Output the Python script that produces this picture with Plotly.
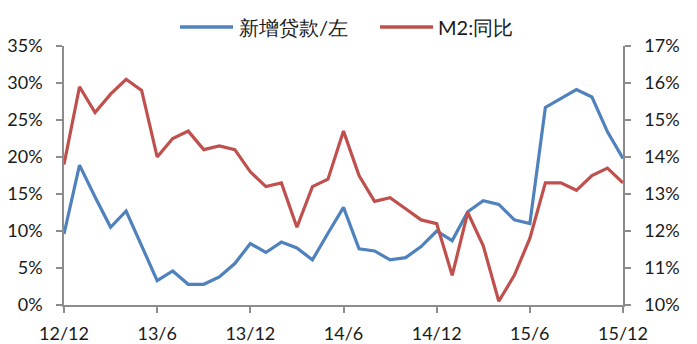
import plotly.graph_objects as go

# Monthly observations, Dec 2012 - Dec 2015
months = list(range(37))
tick_positions = [0, 6, 12, 18, 24, 30, 36]
tick_labels = ["12/12", "13/6", "13/12", "14/6", "14/12", "15/6", "15/12"]

series_names = ["新增贷款/左", "M2:同比"]

# New loans growth (left axis, %)
new_loans = [9.6, 18.9, 14.6, 10.5, 12.7, 7.9, 3.3, 4.6, 2.8, 2.8, 3.8, 5.6,
             8.3, 7.1, 8.5, 7.7, 6.1, 9.7, 13.2, 7.6, 7.3, 6.1, 6.4, 7.9,
             10.0, 8.7, 12.6, 14.1, 13.6, 11.5, 11.0, 26.7, 27.9, 29.1, 28.1, 23.4,
             19.8]

# M2 year-on-year growth (right axis, %)
m2_yoy = [13.8, 15.9, 15.2, 15.7, 16.1, 15.8, 14.0, 14.5, 14.7, 14.2, 14.3, 14.2,
          13.6, 13.2, 13.3, 12.1, 13.2, 13.4, 14.7, 13.5, 12.8, 12.9, 12.6, 12.3,
          12.2, 10.8, 12.5, 11.6, 10.1, 10.8, 11.8, 13.3, 13.3, 13.1, 13.5, 13.7,
          13.3]

BLUE = "#4F81BD"
RED = "#C0504D"
AXIS = "#8C8C8C"
FONT = "Lato, 'Open Sans', sans-serif"

W, H = 697, 344
L, R, T, B = 64, 74, 46, 39
PW, PH = W - L - R, H - T - B


def px_x(px):
    return (px - L) / PW


def px_y(py):
    return (H - B - py) / PH


fig = go.Figure()
fig.add_trace(go.Scatter(x=months, y=new_loans, name=series_names[0], mode="lines",
                         line=dict(color=BLUE, width=3.2)))
fig.add_trace(go.Scatter(x=months, y=m2_yoy, name=series_names[1], mode="lines",
                         line=dict(color=RED, width=3.2), yaxis="y2"))

# Legend drawn above the plot: line swatch followed by its label
legend_items = [(series_names[0], BLUE, 180, 233, 237), (series_names[1], RED, 380, 433, 436)]
legend_y = 27
for name, color, x0, x1, tx in legend_items:
    fig.add_shape(type="line", xref="paper", yref="paper",
                  x0=px_x(x0), x1=px_x(x1), y0=px_y(legend_y), y1=px_y(legend_y),
                  line=dict(color=color, width=3.5))
    fig.add_annotation(xref="paper", yref="paper", x=px_x(tx), y=px_y(legend_y),
                       text=name, showarrow=False, xanchor="left", yanchor="middle",
                       font=dict(size=20, color="#1a1a1a"))

fig.update_layout(
    width=W, height=H,
    margin=dict(l=L, r=R, t=T, b=B, autoexpand=False),
    paper_bgcolor="white", plot_bgcolor="white",
    font=dict(family=FONT, size=18, color="#1a1a1a"),
    showlegend=False,
    xaxis=dict(range=[0, 36], tickvals=tick_positions, ticktext=tick_labels,
               showgrid=False, zeroline=False, showline=True, linecolor=AXIS,
               linewidth=1.5, ticks="outside", ticklen=6, tickcolor=AXIS,
               tickwidth=1.5, tickfont=dict(size=18), ticklabelstandoff=6),
    yaxis=dict(range=[0, 35], dtick=5, ticksuffix="%", showgrid=False,
               zeroline=False, showline=True, linecolor=AXIS, linewidth=1.5,
               ticks="outside", ticklen=6, tickcolor=AXIS, tickwidth=1.5,
               tickfont=dict(size=18), ticklabelstandoff=10),
    yaxis2=dict(range=[10, 17], dtick=1, ticksuffix="%", overlaying="y",
                side="right", showgrid=False, zeroline=False, showline=True,
                linecolor=AXIS, linewidth=1.5, ticks="outside", ticklen=6,
                tickcolor=AXIS, tickwidth=1.5, tickfont=dict(size=18),
                ticklabelstandoff=10),
)

fig.write_html("out.html")
